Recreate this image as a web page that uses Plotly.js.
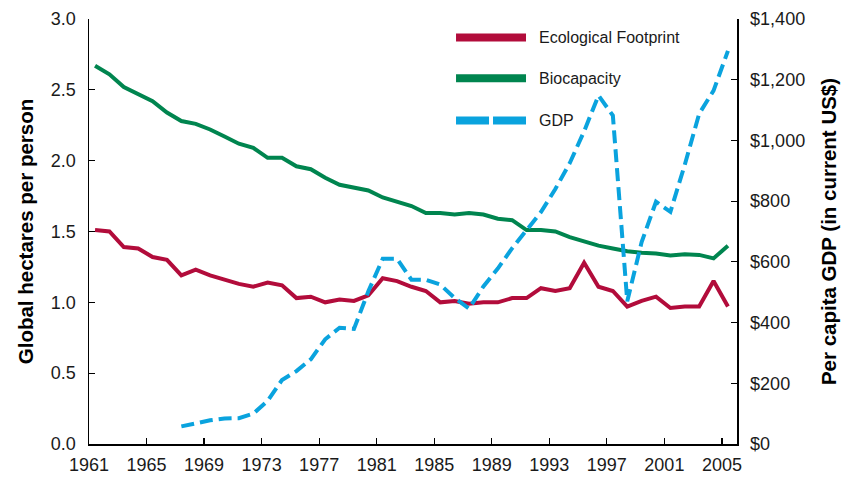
<!DOCTYPE html>
<html>
<head>
<meta charset="utf-8">
<script src="https://cdn.plot.ly/plotly-3.0.1.min.js"></script>
<style>html,body{margin:0;padding:0;background:#fff;}#chart{width:843px;height:481px;}</style>
</head>
<body>
<div id="chart"></div>
<script>
const years = [1961,1962,1963,1964,1965,1966,1967,1968,1969,1970,1971,1972,1973,1974,1975,1976,1977,1978,1979,1980,1981,1982,1983,1984,1985,1986,1987,1988,1989,1990,1991,1992,1993,1994,1995,1996,1997,1998,1999,2000,2001,2002,2003,2004,2005];
const footprint = [1.51,1.50,1.39,1.38,1.32,1.30,1.19,1.23,1.19,1.16,1.13,1.11,1.14,1.12,1.03,1.04,1.00,1.02,1.01,1.05,1.17,1.15,1.11,1.08,1.00,1.01,0.99,1.00,1.00,1.03,1.03,1.10,1.08,1.10,1.28,1.11,1.08,0.97,1.01,1.04,0.96,0.97,0.97,1.15,0.97];
const biocapacity = [2.67,2.61,2.52,2.47,2.42,2.34,2.28,2.26,2.22,2.17,2.12,2.09,2.02,2.02,1.96,1.94,1.88,1.83,1.81,1.79,1.74,1.71,1.68,1.63,1.63,1.62,1.63,1.62,1.59,1.58,1.51,1.51,1.50,1.46,1.43,1.40,1.38,1.36,1.35,1.345,1.33,1.34,1.335,1.31,1.40];
const gdp = [null,null,null,null,null,null,58,68,78,84,85,100,142,211,240,279,345,383,379,503,610,610,541,541,525,481,446,519,578,645,705,764,840,925,1030,1148,1082,470,665,798,765,920,1088,1164,1295];
const tickYears = [1961,1965,1969,1973,1977,1981,1985,1989,1993,1997,2001,2005];
const tickLabels = tickYears.map(String);
const seriesNames = ['Ecological Footprint','Biocapacity','GDP'];
const colors = ['#b20c3b','#00854f','#0aa3de'];

const traces = [
  {x: years, y: footprint, name: seriesNames[0], type: 'scatter', mode: 'lines',
   line: {color: colors[0], width: 4}, showlegend: false, yaxis: 'y'},
  {x: years, y: biocapacity, name: seriesNames[1], type: 'scatter', mode: 'lines',
   line: {color: colors[1], width: 4}, showlegend: false, yaxis: 'y'},
  {x: years, y: gdp, name: seriesNames[2], type: 'scatter', mode: 'lines',
   line: {color: colors[2], width: 4, dash: '13px,6px'}, showlegend: false, yaxis: 'y2', connectgaps: false}
];

const legendX0 = 0.5664, legendX1 = 0.6744, legendTextX = 0.6918;
const legendYs = [0.9565, 0.8605, 0.7612];
const shapes = legendYs.map((yy, i) => ({
  type: 'line', xref: 'paper', yref: 'paper', x0: legendX0, x1: legendX1, y0: yy, y1: yy,
  line: {color: colors[i], width: 8, dash: i === 2 ? '33px,4px' : 'solid'}
}));
const annotations = legendYs.map((yy, i) => ({
  xref: 'paper', yref: 'paper', x: legendTextX, y: yy, xanchor: 'left', yanchor: 'middle',
  text: seriesNames[i], showarrow: false, font: {family: 'Liberation Sans, Arial, sans-serif', size: 16, color: '#1a1a1a'}
}));

const tickFont = {family: 'Liberation Sans, Arial, sans-serif', size: 18, color: '#1a1a1a'};
const titleFont = {family: 'Liberation Sans, Arial, sans-serif', size: 20.5, color: '#000', weight: 'bold'};

const layout = {
  width: 843, height: 481,
  margin: {l: 89, r: 106, t: 19, b: 37, pad: 0},
  paper_bgcolor: '#fff', plot_bgcolor: '#fff',
  showlegend: false,
  xaxis: {
    range: [1960.58, 2005.63], tickvals: tickYears.map(y => y - 0.42), ticktext: tickLabels,
    showgrid: false, zeroline: false, showline: true, linecolor: '#000', linewidth: 1.5,
    ticks: 'inside', ticklen: 6, tickwidth: 1.2, tickcolor: '#000', tickfont: tickFont,
    ticklabelstandoff: 4, fixedrange: true
  },
  yaxis: {
    range: [0, 3], dtick: 0.5, tick0: 0, tickformat: '.1f',
    showgrid: false, zeroline: false, showline: true, linecolor: '#000', linewidth: 1.5,
    ticks: 'inside', ticklen: 6, tickwidth: 1.2, tickcolor: '#000', tickfont: tickFont,
    ticklabelstandoff: 8,
    title: {text: 'Global hectares per person', font: titleFont, standoff: 11},
    automargin: false
  },
  yaxis2: {
    range: [0, 1400], dtick: 200, tick0: 0, tickprefix: '$', tickformat: ',d',
    overlaying: 'y', side: 'right',
    showgrid: false, zeroline: false, showline: true, linecolor: '#000', linewidth: 1.5,
    ticks: 'inside', ticklen: 6, tickwidth: 1.2, tickcolor: '#000', tickfont: tickFont,
    ticklabelstandoff: 8,
    title: {text: 'Per capita GDP (in current US$)', font: titleFont, standoff: 17},
    automargin: false
  },
  shapes: shapes,
  annotations: annotations
};

Plotly.newPlot('chart', traces, layout, {displayModeBar: false, staticPlot: true});
</script>
</body>
</html>
